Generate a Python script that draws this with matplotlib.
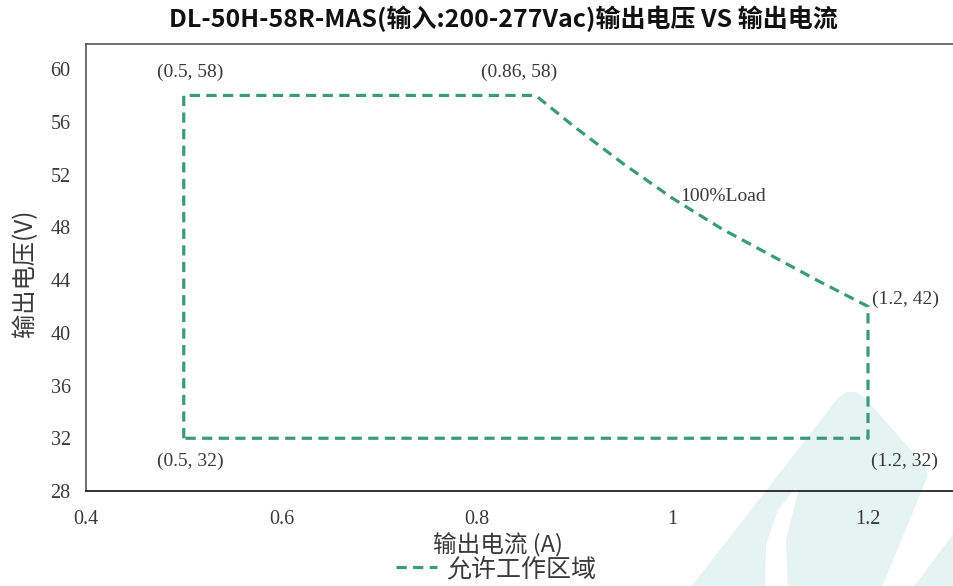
import matplotlib
matplotlib.use("Agg")
import matplotlib.pyplot as plt
from matplotlib.patches import Polygon
from matplotlib.lines import Line2D

# ---------------- data ----------------
current_a = [0.5, 0.5, 0.86, 0.90, 0.95, 1.00, 1.05, 1.10, 1.15, 1.20, 1.20, 0.5]
voltage_v = [32, 58, 58, 55.6, 52.8, 50.2, 47.9, 45.9, 43.9, 42, 32, 32]

corner_x = [0.5, 0.86, 1.2, 0.5, 1.2]
corner_y = [58, 58, 42, 32, 32]
corner_text = ["(0.5, 58)", "(0.86, 58)", "(1.2, 42)", "(0.5, 32)", "(1.2, 32)"]

load_x = 1.0
load_y = 50.2
load_text = "100%Load"

x_ticks = [0.4, 0.6, 0.8, 1.0, 1.2]
x_tick_labels = ["0.4", "0.6", "0.8", "1", "1.2"]
y_ticks = [28, 32, 36, 40, 44, 48, 52, 56, 60]
y_tick_labels = ["28", "32", "36", "40", "44", "48", "52", "56", "60"]

title = "DL-50H-58R-MAS(输入:200-277Vac)输出电压 VS 输出电流"
x_label = "输出电流 (A)"
y_label = "输出电压(V)"
legend_label = "允许工作区域"

# ---------------- style ----------------
W, H = 954, 586
LINE_COLOR = "#3b9a7b"
CJK = ["Noto Sans CJK SC", "DejaVu Sans"]
SERIF = ["Liberation Serif", "DejaVu Serif"]
TXT = "#3a3a3a"

fig = plt.figure(figsize=(W / 100, H / 100), dpi=100)
fig.patch.set_facecolor("white")

def px(x, y):
    return (x / W, 1 - y / H)

# decorative watermark (background logo)
wm_color = "#e5f3f1"
main_shape = [px(687, 592), px(838, 398), px(846, 392), px(856, 392), px(864, 397),
              px(925, 466), px(928, 475), px(880, 592)]
slot_shape = [px(765, 592), px(766, 545), px(778, 510), px(795, 488), px(798, 492),
              px(786, 540), px(788, 592)]
right_band = [px(910, 592), px(962, 522), px(962, 592)]
for pts, col in [(main_shape, wm_color), (slot_shape, "white"), (right_band, wm_color)]:
    fig.add_artist(Polygon(pts, closed=True, facecolor=col, edgecolor="none",
                           transform=fig.transFigure, zorder=-5))

ax = fig.add_axes([86 / W, 1 - 491 / H, 1 - 86 / W, (491 - 44) / H])
ax.patch.set_alpha(0)
ax.set_xlim(0.4, 0.4 + (W - 86) / 977.5)
ax.set_ylim(28, 61.9)

for s in ["left", "top"]:
    ax.spines[s].set_color("#555555")
    ax.spines[s].set_linewidth(1.2)
ax.spines["bottom"].set_color("#111111")
ax.spines["bottom"].set_linewidth(1.2)
ax.spines["right"].set_visible(False)

ax.set_xticks(x_ticks)
ax.set_xticklabels(x_tick_labels)
ax.set_yticks(y_ticks)
ax.set_yticklabels(y_tick_labels)
ax.tick_params(axis="x", length=0, pad=14, labelsize=14.5, labelcolor=TXT)
ax.tick_params(axis="y", length=0, pad=11, labelsize=14.5, labelcolor=TXT)
for lab in ax.get_xticklabels() + ax.get_yticklabels():
    lab.set_family(SERIF)

line, = ax.plot(current_a, voltage_v, color=LINE_COLOR, lw=2.3,
                linestyle=(0, (3.2, 2.0)), solid_joinstyle="miter", zorder=3)

offsets = [(6, 23), (-17, 23), (38, 7), (7, -23), (37, -23)]
for x, y, t, off in zip(corner_x, corner_y, corner_text, offsets):
    ax.annotate(t, xy=(x, y), xytext=off, textcoords="offset pixels",
                ha="center", va="center", fontsize=14, color=TXT, family=SERIF)
ax.annotate(load_text, xy=(load_x, load_y), xytext=(8, 2), textcoords="offset pixels",
            ha="left", va="center", fontsize=14, color=TXT, family=SERIF)

fig.text(503 / W, 1 - 19 / H, title, ha="center", va="center", fontsize=18,
         fontweight="bold", color="#111111", family=CJK)
fig.text(498 / W, 1 - 545 / H, x_label, ha="center", va="center", fontsize=17,
         color=TXT, family=CJK)
fig.text(25 / W, 1 - 273 / H, y_label, ha="center", va="center", fontsize=17.5,
         rotation=90, color=TXT, family=CJK)

handle = Line2D([], [], color=LINE_COLOR, lw=2.3, linestyle=(0, (3.2, 2.0)))
fig.legend([handle], [legend_label], loc="center", bbox_to_anchor=(496 / W, 1 - 569 / H),
           frameon=False, prop={"family": CJK, "size": 18}, handlelength=1.65,
           handletextpad=0.35, labelcolor=TXT)

fig.savefig("out.png", dpi=100)
